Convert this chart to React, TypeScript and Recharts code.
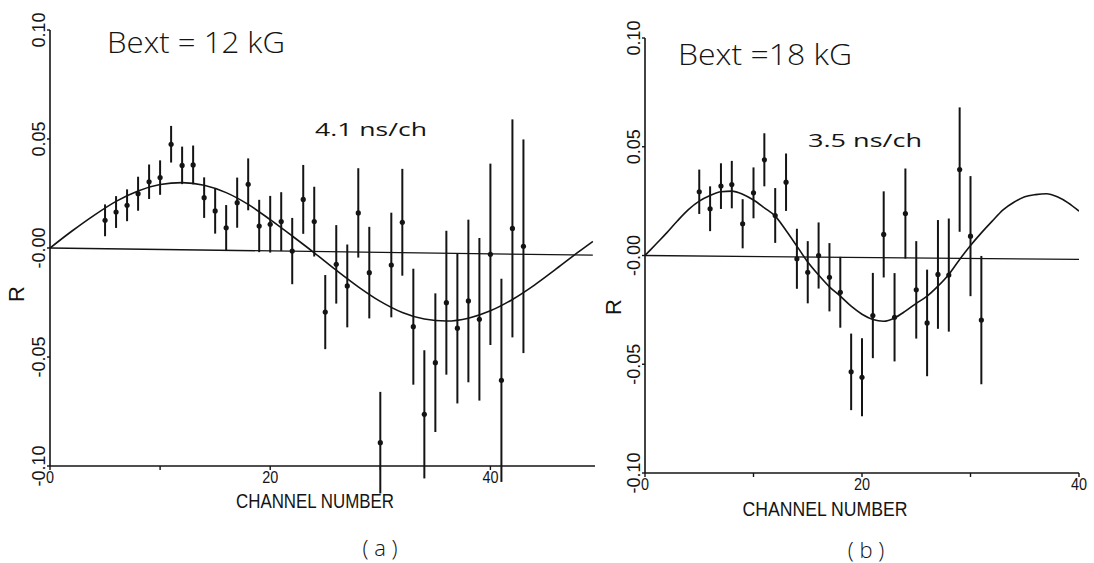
import React from 'react';
import { ComposedChart, Line, Scatter, ErrorBar, XAxis, YAxis, ReferenceLine } from 'recharts';

// panel (a): Bext = 12 kG, 4.1 ns/ch
const channelsA = [5, 6, 7, 8, 9, 10, 11, 12, 13, 14, 15, 16, 17, 18, 19, 20, 21, 22, 23, 24, 25, 26, 27, 28, 29, 30, 31, 32, 33, 34, 35, 36, 37, 38, 39, 40, 41, 42, 43];
const ratioA = [
  0.0127, 0.0165, 0.0196, 0.0249, 0.0304, 0.0323, 0.0476, 0.0379, 0.0381, 0.0231,
  0.017, 0.0093, 0.0208, 0.0292, 0.0101, 0.0109, 0.0121, -0.0014, 0.0223, 0.0121,
  -0.0294, -0.0075, -0.0174, 0.0161, -0.0113, -0.0893, -0.0078, 0.0118, -0.0361, -0.0763,
  -0.0526, -0.0251, -0.0368, -0.0243, -0.0327, -0.0029, -0.0607, 0.009, 0.0008,
];
const errA = [
  0.0073, 0.0073, 0.0073, 0.0078, 0.0079, 0.0079, 0.0084, 0.0086, 0.0089, 0.0093,
  0.0104, 0.0104, 0.0115, 0.0119, 0.012, 0.013, 0.0135, 0.0152, 0.0158, 0.016,
  0.017, 0.018, 0.019, 0.0205, 0.021, 0.0233, 0.024, 0.0245, 0.0266, 0.0294,
  0.0318, 0.033, 0.0345, 0.0373, 0.0373, 0.0416, 0.0466, 0.05, 0.049,
];
const fitChA = [0, 2, 4, 6, 8, 10, 12, 14, 16, 18, 20, 22, 24, 26, 28, 30, 32, 34, 36, 38, 40, 42, 44, 46, 48, 49.3];
const fitA = [
  0, 0.0078, 0.015, 0.0214, 0.0262, 0.0291, 0.03, 0.0288, 0.0254, 0.02,
  0.013, 0.0055, -0.0022, -0.0102, -0.0178, -0.0245, -0.0296, -0.0326, -0.0335, -0.0322,
  -0.0288, -0.0236, -0.017, -0.0095, -0.0018, 0.003,
];

// panel (b): Bext = 18 kG, 3.5 ns/ch
const channelsB = [5, 6, 7, 8, 9, 10, 11, 12, 13, 14, 15, 16, 17, 18, 19, 20, 21, 22, 23, 24, 25, 26, 27, 28, 29, 30, 31];
const ratioB = [
  0.0293, 0.0215, 0.0319, 0.0326, 0.0146, 0.0288, 0.044, 0.0184, 0.0337, -0.0015,
  -0.0077, 0.0, -0.01, -0.0169, -0.0535, -0.056, -0.0276, 0.0097, -0.0284, 0.0193,
  -0.0158, -0.031, -0.0087, -0.009, 0.0395, 0.0089, -0.0297,
];
const errB = [
  0.0102, 0.0103, 0.0105, 0.0109, 0.0113, 0.0117, 0.0122, 0.0126, 0.0132, 0.0138,
  0.0143, 0.0152, 0.0157, 0.0163, 0.0176, 0.0179, 0.0196, 0.0198, 0.0203, 0.0207,
  0.0224, 0.0245, 0.025, 0.026, 0.0286, 0.0276, 0.0295,
];
const fitChB = [0, 1, 2, 3, 4, 5, 6, 7, 8, 9, 10, 11, 12, 13, 14, 15, 16, 17, 18, 19, 20, 21, 22, 23, 24, 25, 26, 27, 28, 29, 30, 31, 32, 33, 34, 35, 36, 37, 38, 39, 40];
const fitB = [
  0, 0.0052, 0.0104, 0.016, 0.0211, 0.025, 0.0276, 0.0293, 0.0296, 0.0282,
  0.0255, 0.0219, 0.0181, 0.0115, 0.0043, -0.003, -0.009, -0.0144, -0.0187, -0.0233,
  -0.027, -0.0294, -0.0302, -0.0287, -0.0256, -0.022, -0.0187, -0.0141, -0.0087, -0.0018,
  0.0046, 0.0104, 0.0158, 0.021, 0.0245, 0.027, 0.028, 0.0284, 0.027, 0.0242, 0.0204,
];

const yTicks = [-0.1, -0.05, 0, 0.05, 0.1];
const yTickText: Record<string, string> = { '-0.1': '-0.10', '-0.05': '-0.05', '0': '-0.00', '0.05': '0.05', '0.1': '0.10' };
const xTicks = [0, 10, 20, 30, 40];
const xLabelled = [0, 20, 40];

const INK = '#141414';
const FONT = "'Liberation Sans', 'DejaVu Sans', sans-serif";
const THIN = "'Open Sans', 'DejaVu Sans', sans-serif";

const pointsA = channelsA.map((ch, i) => ({ ch, r: ratioA[i], err: errA[i] }));
const curveA = fitChA.map((ch, i) => ({ ch, r: fitA[i] }));
const pointsB = channelsB.map((ch, i) => ({ ch, r: ratioB[i], err: errB[i] }));
const curveB = fitChB.map((ch, i) => ({ ch, r: fitB[i] }));

const YTick = (props: any) => {
  const { x, y, payload } = props;
  return (
    <text x={x} y={y} transform={`rotate(-90 ${x} ${y})`} textAnchor="middle" fontSize={18} fontFamily={FONT} fill={INK}>
      {yTickText[String(payload.value)]}
    </text>
  );
};

const XTick = (props: any) => {
  const { x, y, payload } = props;
  if (!xLabelled.includes(payload.value)) return <g />;
  return (
    <text x={x} y={y} dy="0.71em" textAnchor="middle" fontSize={16} fontFamily={FONT} fill={INK}
      textLength={payload.value === 0 ? 8 : 16} lengthAdjust="spacingAndGlyphs">
      {payload.value}
    </text>
  );
};

const Dot = (props: any) => <circle cx={props.cx} cy={props.cy} r={2.6} fill={INK} />;

type PanelProps = {
  left: number;
  width: number;
  margin: { top: number; right: number; bottom: number; left: number };
  xMax: number;
  points: { ch: number; r: number; err: number }[];
  curve: { ch: number; r: number }[];
  zeroEnd: { x: number; y: number };
  xTitle: { x: number; y: number; len: number };
  rTitle: { x: number; y: number };
};

const Panel = ({ left, width, margin, xMax, points, curve, zeroEnd, xTitle, rTitle }: PanelProps) => (
  <div style={{ position: 'absolute', left, top: 0 }}>
    <ComposedChart width={width} height={563} margin={margin}>
      <XAxis
        type="number"
        dataKey="ch"
        domain={[0, xMax]}
        ticks={xTicks}
        allowDataOverflow
        tick={<XTick />}
        tickSize={4}
        tickMargin={2}
        height={30}
        axisLine={{ stroke: INK, strokeWidth: 1.6 }}
        tickLine={{ stroke: INK, strokeWidth: 1.4 }}
        label={() => (
          <text x={xTitle.x} y={xTitle.y} textAnchor="middle" fontSize={21} fontFamily={FONT} fill={INK}
            textLength={xTitle.len} lengthAdjust="spacingAndGlyphs">
            CHANNEL NUMBER
          </text>
        )}
      />
      <YAxis
        type="number"
        domain={[-0.1, 0.1]}
        ticks={yTicks}
        allowDataOverflow
        width={40}
        tick={<YTick />}
        tickSize={3}
        tickMargin={2}
        axisLine={{ stroke: INK, strokeWidth: 1.6 }}
        tickLine={{ stroke: INK, strokeWidth: 1.4 }}
        label={() => (
          <text x={rTitle.x} y={rTitle.y} transform={`rotate(-90 ${rTitle.x} ${rTitle.y})`} textAnchor="middle"
            fontSize={22} fontFamily={FONT} fill={INK}>
            R
          </text>
        )}
      />
      <ReferenceLine segment={[{ x: 0, y: 0 }, zeroEnd]} stroke={INK} strokeWidth={1.3} ifOverflow="visible" />
      <Line data={curve} dataKey="r" type="monotone" stroke={INK} strokeWidth={1.6} dot={false} isAnimationActive={false} />
      <Scatter data={points} dataKey="r" shape={<Dot />} isAnimationActive={false}>
        <ErrorBar dataKey="err" direction="y" width={0} stroke={INK} strokeWidth={2} isAnimationActive={false} />
      </Scatter>
    </ComposedChart>
  </div>
);

export default function App() {
  return (
    <div style={{ position: 'absolute', left: 0, top: 0, width: 1094, height: 563, background: '#fff' }}>
      <Panel
        left={0}
        width={620}
        margin={{ top: 30, right: 25, bottom: 67, left: 10 }}
        xMax={49.5}
        points={pointsA}
        curve={curveA}
        zeroEnd={{ x: 49.3, y: -0.0033 }}
        xTitle={{ x: 315, y: 508, len: 158 }}
        rTitle={{ x: 24, y: 294 }}
      />
      <Panel
        left={600}
        width={494}
        margin={{ top: 38, right: 15, bottom: 60, left: 5 }}
        xMax={40}
        points={pointsB}
        curve={curveB}
        zeroEnd={{ x: 40, y: -0.0018 }}
        xTitle={{ x: 225, y: 516, len: 165 }}
        rTitle={{ x: 21, y: 307 }}
      />
      <svg width={1094} height={563} style={{ position: 'absolute', left: 0, top: 0, pointerEvents: 'none' }}>
        <text x={107} y={53} fontSize={29} fontFamily={THIN} fontWeight={300} fill={INK} textLength={178} lengthAdjust="spacingAndGlyphs">
          Bext = 12 kG
        </text>
        <text x={315} y={136} fontSize={19} fontFamily={THIN} fill={INK} textLength={112} lengthAdjust="spacingAndGlyphs">
          4.1 ns/ch
        </text>
        <text x={678} y={65} fontSize={29} fontFamily={THIN} fontWeight={300} fill={INK} textLength={174} lengthAdjust="spacingAndGlyphs">
          Bext =18 kG
        </text>
        <text x={808} y={147} fontSize={19} fontFamily={THIN} fill={INK} textLength={114} lengthAdjust="spacingAndGlyphs">
          3.5 ns/ch
        </text>
        <text x={380} y={556} textAnchor="middle" fontSize={22} fontFamily={THIN} fontWeight={300} fill={INK}>
          ( a )
        </text>
        <text x={866} y={558} textAnchor="middle" fontSize={22} fontFamily={THIN} fontWeight={300} fill={INK}>
          ( b )
        </text>
      </svg>
    </div>
  );
}
